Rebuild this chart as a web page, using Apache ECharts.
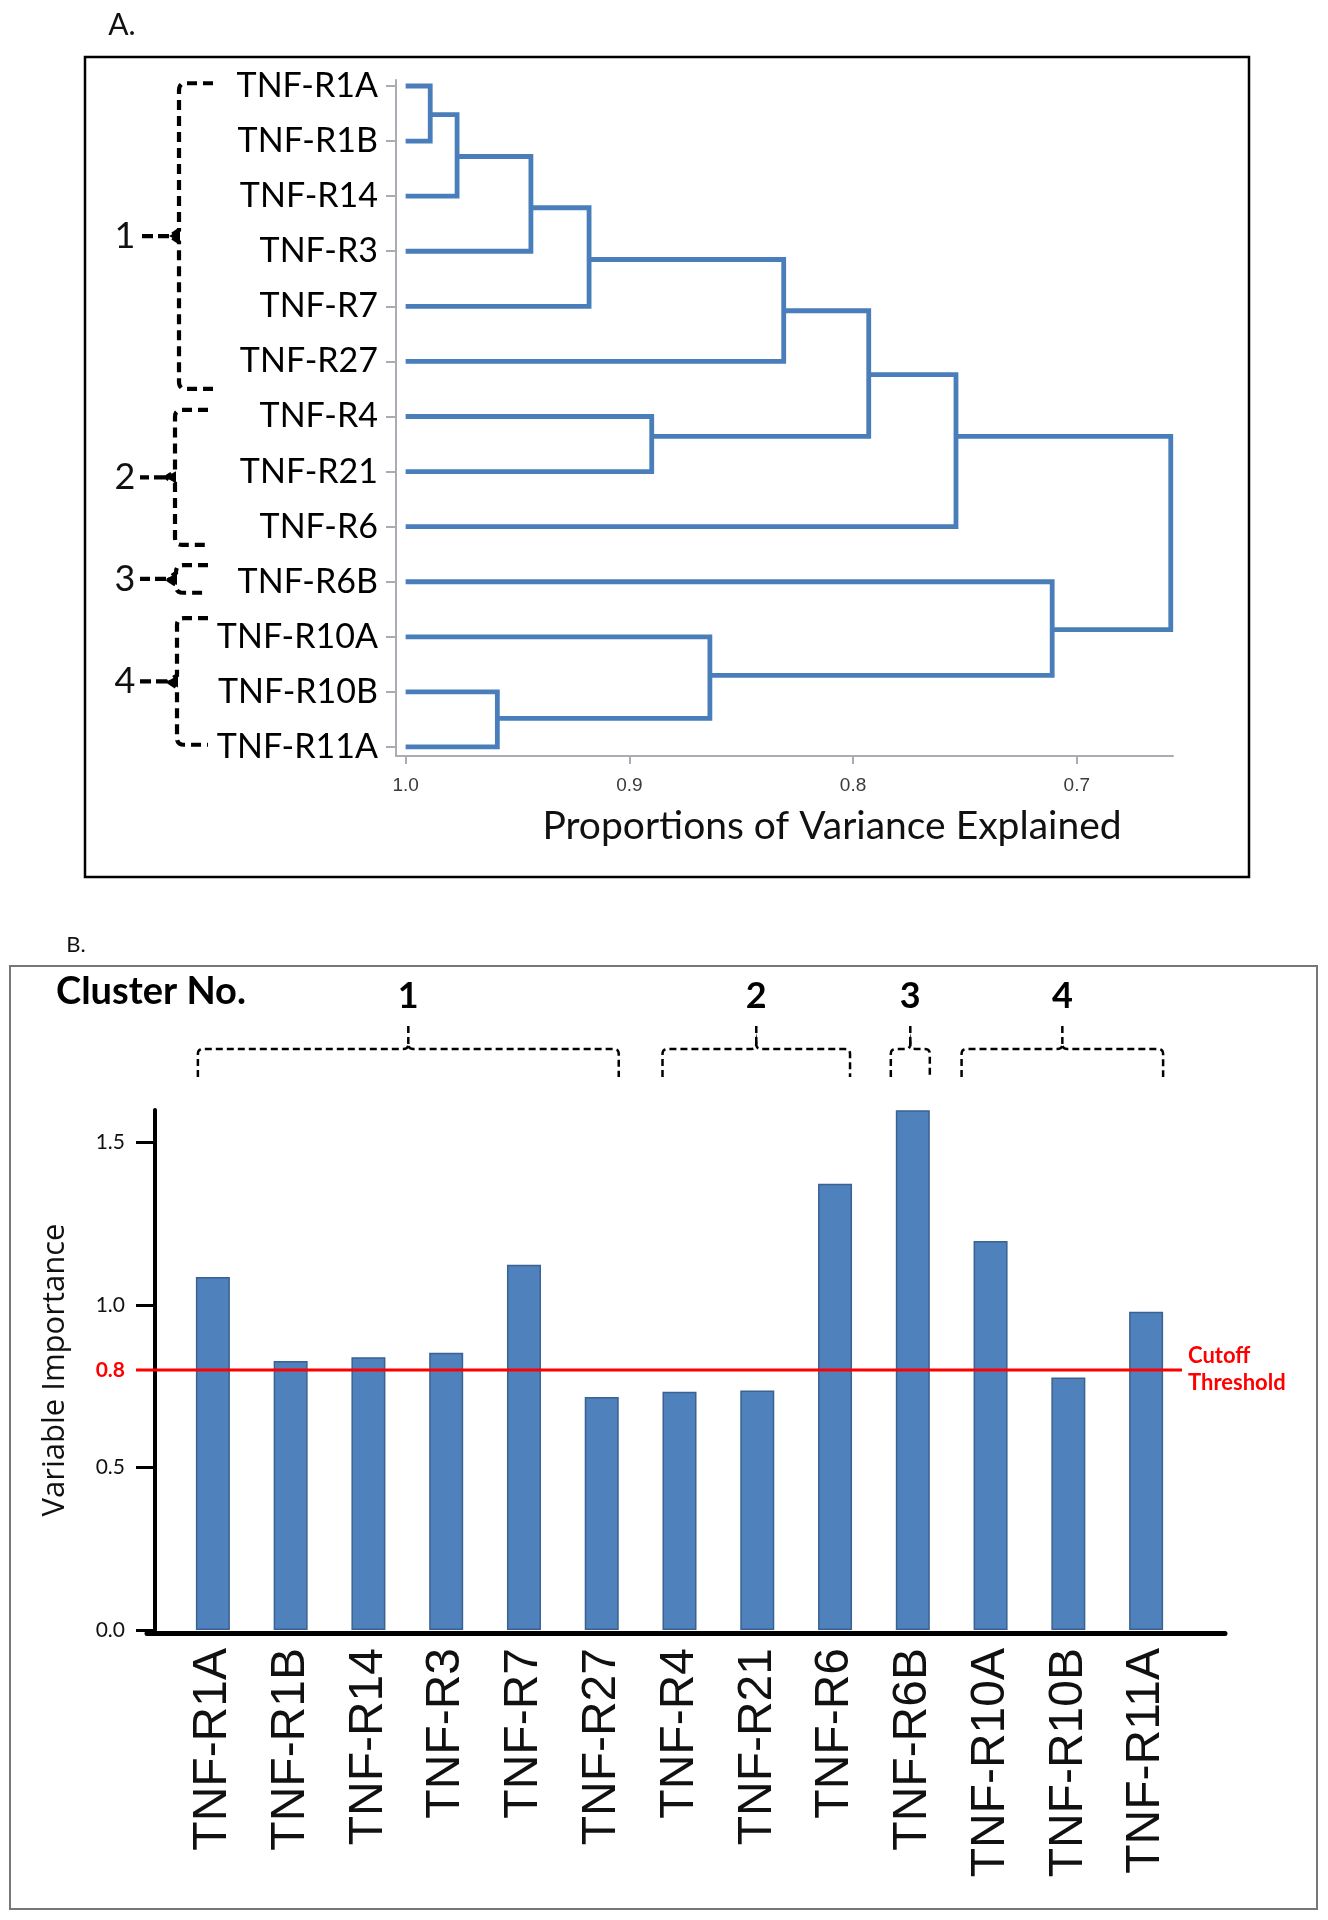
<!DOCTYPE html>
<html><head><meta charset="utf-8">
<script src="https://cdn.jsdelivr.net/npm/echarts@6/dist/echarts.min.js"></script>
<style>html,body{margin:0;padding:0;background:#fff}#c{width:1328px;height:1920px}</style>
</head><body><div id="c"></div>
<script>
// ================= DATA =================
// Panel A: dendrogram (rows top -> bottom)
const leafLabels = ['TNF-R1A','TNF-R1B','TNF-R14','TNF-R3','TNF-R7','TNF-R27','TNF-R4','TNF-R21','TNF-R6','TNF-R6B','TNF-R10A','TNF-R10B','TNF-R11A'];
const leafVariance = 1.0;
const mergeIds      = ['n1','n2','n3','n4','n5','n6','n7','n8','n9','n10','n11','root'];
const mergeChildA   = ['TNF-R1A','n1','n2','n3','n4','TNF-R4','n5','n7','TNF-R10B','TNF-R10A','TNF-R6B','n8'];
const mergeChildB   = ['TNF-R1B','TNF-R14','TNF-R3','TNF-R7','TNF-R27','TNF-R21','n6','TNF-R6','TNF-R11A','n9','n10','n11'];
const mergeVariance = [0.989, 0.977, 0.944, 0.918, 0.831, 0.890, 0.793, 0.754, 0.959, 0.864, 0.711, 0.658];
const mergeRowPos   = [0.52, 1.28, 2.21, 3.15, 4.08, 6.36, 5.24, 6.36, 11.48, 10.70, 9.87, 8.10];
const varianceTicks = [1.0, 0.9, 0.8, 0.7];

// Panel B: variable importance bars
const barCategories    = ['TNF-R1A','TNF-R1B','TNF-R14','TNF-R3','TNF-R7','TNF-R27','TNF-R4','TNF-R21','TNF-R6','TNF-R6B','TNF-R10A','TNF-R10B','TNF-R11A'];
const importanceValues = [1.086, 0.828, 0.839, 0.853, 1.124, 0.717, 0.733, 0.737, 1.373, 1.599, 1.197, 0.777, 0.979];
const importanceTicks  = [0.0, 0.5, 1.0, 1.5];
const cutoffValue      = 0.8;

// Clusters
const clusterLabels = ['1','2','3','4'];
const clusterFirst  = [0, 6, 9, 10];
const clusterLast   = [5, 8, 9, 12];

// ================= LAYOUT (positions / styles) =================
const BLUE = '#4a7ebb';
const braceARowTop    = [-0.05, 5.88, 8.70, 9.66];
const braceARowBottom = [5.50, 8.33, 9.20, 11.96];
const braceAVertX     = [179, 175, 176, 177];
const braceAEndX      = [213, 208, 208, 208];
const braceBPadLeft   = [2, 0, -5, -12];
const braceBPadRight  = [0, -2, 0, 0];

const chart = echarts.init(document.getElementById('c'), null, {renderer: 'canvas'});

const nodePos = {};
leafLabels.forEach((n, i) => { nodePos[n] = {x: leafVariance, y: i}; });
mergeIds.forEach((id, i) => { nodePos[id] = {x: mergeVariance[i], y: mergeRowPos[i]}; });

const rowIdx = leafLabels.map((_, i) => i);
const gray = '#a9adb3';

const option = {
  backgroundColor: '#fff',
  animation: false,
  grid: [
    {left: 396, top: 80, width: 777, height: 676},
    {left: 174, top: 1110, width: 1011, height: 520},
    {left: 147, top: 1110, width: 1078, height: 520},
    {left: 136, top: 1110, width: 1046, height: 520}
  ],
  xAxis: [
    {gridIndex: 0, type: 'value', inverse: true, min: 0.657, max: 1.0043, position: 'bottom',
     axisLine: {show: true, onZero: false, lineStyle: {color: gray, width: 2}},
     axisTick: {show: true, customValues: varianceTicks, length: 8, lineStyle: {color: gray, width: 2}},
     axisLabel: {show: true, customValues: varianceTicks, formatter: v => v.toFixed(1), margin: 20,
                 fontSize: 19, fontFamily: 'Liberation Sans', color: '#3a3a3a'},
     splitLine: {show: false}},
    {gridIndex: 1, type: 'category', data: barCategories,
     axisLine: {show: false}, axisTick: {show: false},
     axisLabel: {interval: 0, rotate: 90, margin: 18, fontSize: 48, fontFamily: 'Liberation Sans', color: '#111'}},
    {gridIndex: 2, type: 'value', min: 0, max: 1, offset: 3, z: 5,
     axisLine: {show: true, onZero: false, lineStyle: {color: '#000', width: 5}},
     axisTick: {show: false}, axisLabel: {show: false}, splitLine: {show: false}},
    {gridIndex: 3, type: 'value', min: 0, max: 1, show: false}
  ],
  yAxis: [
    {gridIndex: 0, type: 'value', inverse: true, min: -0.109, max: 12.164,
     axisLine: {show: true, onZero: false, lineStyle: {color: gray, width: 2}},
     axisTick: {show: true, customValues: rowIdx, length: 10, lineStyle: {color: gray, width: 2}},
     axisLabel: {show: true, customValues: rowIdx, formatter: v => leafLabels[Math.round(v)], margin: 18,
                 fontSize: 34, fontFamily: 'Lato', color: '#000'},
     splitLine: {show: false}},
    {gridIndex: 1, type: 'value', min: 0, max: 1.6, offset: 19,
     name: 'Variable Importance', nameLocation: 'middle', nameRotate: 90, nameGap: 84,
     nameTextStyle: {fontSize: 31, fontFamily: 'Open Sans', color: '#111'},
     axisLine: {show: true, onZero: false, lineStyle: {color: '#000', width: 4}},
     axisTick: {show: true, customValues: importanceTicks, length: 19, lineStyle: {color: '#000', width: 3}},
     axisLabel: {show: true, customValues: importanceTicks, formatter: v => v.toFixed(1), margin: 30,
                 fontSize: 21, fontFamily: 'Lato', color: '#111'},
     splitLine: {show: false}},
    {gridIndex: 2, type: 'value', min: 0, max: 1, show: false},
    {gridIndex: 3, type: 'value', min: 0, max: 1.6,
     axisLine: {show: false}, axisTick: {show: false}, splitLine: {show: false},
     axisLabel: {show: true, customValues: [cutoffValue], formatter: v => v.toFixed(1), margin: 11,
                 fontSize: 21, fontWeight: 'bold', fontFamily: 'Lato', color: '#ff0000'}}
  ],
  series: [
    {type: 'custom', xAxisIndex: 0, yAxisIndex: 0, clip: false, silent: true,
     data: mergeVariance.map((v, i) => [v, mergeRowPos[i]]),
     renderItem: function (params, api) {
       const i = params.dataIndex;
       const a = nodePos[mergeChildA[i]], b = nodePos[mergeChildB[i]];
       const mx = mergeVariance[i];
       const pts = [api.coord([a.x, a.y]), api.coord([mx, a.y]), api.coord([mx, b.y]), api.coord([b.x, b.y])];
       return {type: 'polyline', shape: {points: pts},
               style: {stroke: BLUE, lineWidth: 4.8, fill: 'none', lineJoin: 'miter', lineCap: 'butt'}};
     }},
    {type: 'bar', xAxisIndex: 1, yAxisIndex: 1, data: importanceValues, barWidth: 34, silent: true,
     itemStyle: {color: '#4f81bd', borderColor: '#3a6291', borderWidth: 1.5}},
    {type: 'line', xAxisIndex: 3, yAxisIndex: 3, data: [[0, cutoffValue], [1, cutoffValue]],
     symbol: 'none', silent: true, lineStyle: {color: '#ff0000', width: 3}}
  ]
};
chart.setOption(option);

// ================= ANNOTATIONS =================
function quad(p, c, q, out) {
  for (let t = 0.2; t <= 1.0001; t += 0.2) {
    const u = 1 - t;
    out.push([u * u * p[0] + 2 * u * t * c[0] + t * t * q[0], u * u * p[1] + 2 * u * t * c[1] + t * t * q[1]]);
  }
}
const g = [];
g.push({type: 'rect', shape: {x: 85, y: 57, width: 1164, height: 820}, style: {fill: 'none', stroke: '#000', lineWidth: 2.5}, z: 1});
g.push({type: 'rect', shape: {x: 10, y: 966, width: 1307, height: 943}, style: {fill: 'none', stroke: '#777', lineWidth: 2}, z: 1});
g.push({type: 'text', x: 122, y: 25, style: {text: 'A.', fontSize: 30, fontFamily: 'Lato', fill: '#111', align: 'center', verticalAlign: 'middle'}});
g.push({type: 'text', x: 76, y: 945, style: {text: 'B.', fontSize: 22, fontFamily: 'Lato', fill: '#111', align: 'center', verticalAlign: 'middle'}});
g.push({type: 'text', x: 832, y: 826, style: {text: 'Proportions of Variance Explained', fontSize: 39, fontFamily: 'Lato', fill: '#111', align: 'center', verticalAlign: 'middle'}});
g.push({type: 'text', x: 56, y: 992, style: {text: 'Cluster No.', fontSize: 38, fontWeight: 'bold', fontFamily: 'Lato', fill: '#000', align: 'left', verticalAlign: 'middle'}});
g.push({type: 'text', x: 1188, y: 1356, style: {text: 'Cutoff', fontSize: 22, fontWeight: 'bold', fontFamily: 'Lato', fill: '#ff0000', align: 'left', verticalAlign: 'middle'}});
g.push({type: 'text', x: 1188, y: 1383, style: {text: 'Threshold', fontSize: 22, fontWeight: 'bold', fontFamily: 'Lato', fill: '#ff0000', align: 'left', verticalAlign: 'middle'}});

// Panel A braces
clusterLabels.forEach((lab, k) => {
  const yt = chart.convertToPixel({yAxisIndex: 0}, braceARowTop[k]);
  const yb = chart.convertToPixel({yAxisIndex: 0}, braceARowBottom[k]);
  const yn = (yt + yb) / 2;
  const xv = braceAVertX[k], xe = braceAEndX[k];
  const r = Math.min(7, (yb - yt) / 4);
  const pts = [[xe, yt], [xv + r, yt]];
  quad([xv + r, yt], [xv, yt], [xv, yt + r], pts);
  pts.push([xv, yn - 6], [xv - 9, yn], [xv, yn + 6], [xv, yb - r]);
  quad([xv, yb - r], [xv, yb], [xv + r, yb], pts);
  pts.push([xe, yb]);
  g.push({type: 'polyline', shape: {points: pts}, style: {fill: 'none', stroke: '#000', lineWidth: 4.2, lineDash: [10, 6]}});
  g.push({type: 'polygon', shape: {points: [[xv + 1, yn - 6], [xv - 10, yn], [xv + 1, yn + 6]]}, style: {fill: '#000'}});
  g.push({type: 'line', shape: {x1: xv - 10, y1: yn, x2: 140, y2: yn}, style: {stroke: '#000', lineWidth: 4.2, lineDash: [11, 5]}});
  g.push({type: 'text', x: 125, y: yn, style: {text: lab, fontSize: 36, fontFamily: 'Lato', fill: '#111', align: 'center', verticalAlign: 'middle'}});
});

// Panel B braces
const halfBar = 17;
clusterLabels.forEach((lab, k) => {
  const x1 = chart.convertToPixel({xAxisIndex: 1}, barCategories[clusterFirst[k]]) - halfBar + braceBPadLeft[k];
  const x2 = chart.convertToPixel({xAxisIndex: 1}, barCategories[clusterLast[k]]) + halfBar + braceBPadRight[k];
  const xm = (x1 + x2) / 2;
  const yh = 1049, ye = 1077, yn = 1026, r = 5;
  const pts = [[x1, ye], [x1, yh + r]];
  quad([x1, yh + r], [x1, yh], [x1 + r, yh], pts);
  pts.push([xm - r, yh]);
  quad([xm - r, yh], [xm, yh], [xm, yh - r], pts);
  quad([xm, yh - r], [xm, yh], [xm + r, yh], pts);
  pts.push([x2 - r, yh]);
  quad([x2 - r, yh], [x2, yh], [x2, yh + r], pts);
  pts.push([x2, ye]);
  g.push({type: 'polyline', shape: {points: pts}, style: {fill: 'none', stroke: '#000', lineWidth: 2.5, lineDash: [7, 4]}});
  g.push({type: 'line', shape: {x1: xm, y1: yh - r, x2: xm, y2: yn}, style: {stroke: '#000', lineWidth: 2.5, lineDash: [7, 4]}});
  g.push({type: 'text', x: xm, y: 996, style: {text: lab, fontSize: 36, fontWeight: 'bold', fontFamily: 'Lato', fill: '#000', align: 'center', verticalAlign: 'middle'}});
});

chart.setOption({graphic: g});
</script></body></html>
